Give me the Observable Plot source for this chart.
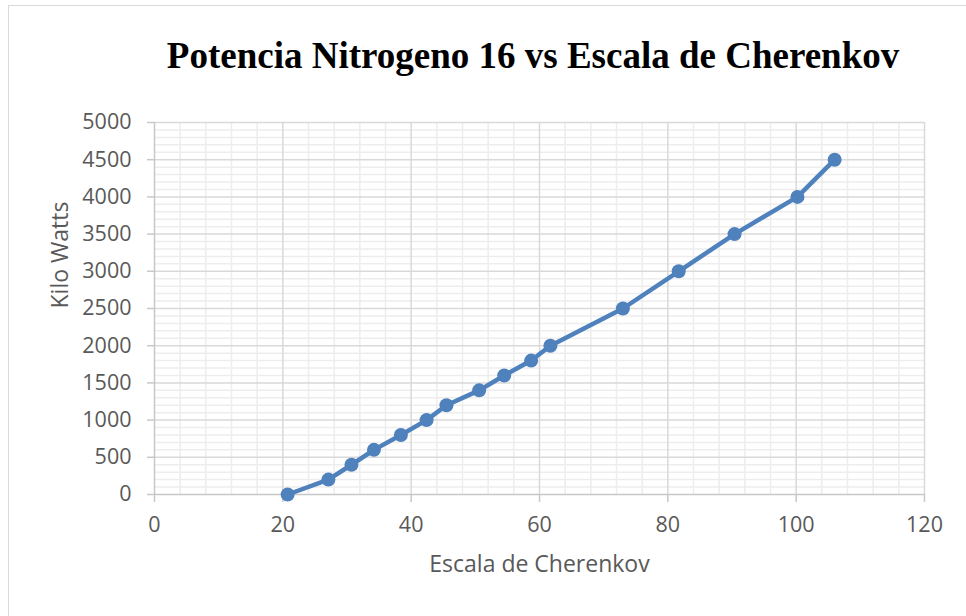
<!DOCTYPE html>
<html>
<head>
<meta charset="utf-8">
<script src="https://cdn.jsdelivr.net/npm/d3@7"></script>
<script src="https://cdn.jsdelivr.net/npm/@observablehq/plot@0.6"></script>
<style>
  html, body { margin: 0; padding: 0; background: #fff; overflow: hidden; }
  #wrap { position: relative; width: 966px; height: 616px; overflow: hidden; background: #fff; }
  #frame { position: absolute; left: 8px; top: 5px; width: 1000px; height: 1000px; border: 1.5px solid #d9d9d9; box-sizing: border-box; }
  #title { position: absolute; left: 0; top: 0; width: 1066px; text-align: center; font-family: "Liberation Serif", "Times New Roman", serif; font-weight: bold; font-size: 37px; color: #000; line-height: 1; padding-top: 37px; }
  #chart { position: absolute; left: 0; top: 0; }
  #chart svg { background: transparent; }
</style>
</head>
<body>
<div id="wrap">
  <div id="frame"></div>
  <div id="chart"></div>
  <div id="title">Potencia Nitrogeno 16 vs Escala de Cherenkov</div>
</div>
<script>
// Data
const escala = [20.75, 27.1, 30.7, 34.2, 38.4, 42.4, 45.5, 50.6, 54.5, 58.7, 61.7, 73.0, 81.7, 90.4, 100.2, 106.0];
const kiloWatts = [0, 200, 400, 600, 800, 1000, 1200, 1400, 1600, 1800, 2000, 2500, 3000, 3500, 4000, 4500];
const xTicks = [0, 20, 40, 60, 80, 100, 120];
const yTicks = [0, 500, 1000, 1500, 2000, 2500, 3000, 3500, 4000, 4500, 5000];
const xMinor = [4, 8, 12, 16, 24, 28, 32, 36, 44, 48, 52, 56, 64, 68, 72, 76, 84, 88, 92, 96, 104, 108, 112, 116];
const yMinor = d3.range(100, 5000, 100).filter(v => v % 500 !== 0);

const data = escala.map((x, i) => ({x, y: kiloWatts[i]}));

const blue = "#4f81bd";
const font = "'Open Sans', 'Noto Sans', sans-serif";

const plot = Plot.plot({
  width: 966,
  height: 616,
  marginLeft: 154,
  marginRight: 42,
  marginTop: 122,
  marginBottom: 122,
  style: {fontFamily: font, background: "transparent"},
  x: {domain: [0, 120]},
  y: {domain: [0, 5000]},
  marks: [
    Plot.ruleX(xMinor, {stroke: "#ededed", strokeWidth: 1.5}),
    Plot.ruleY(yMinor, {stroke: "#ededed", strokeWidth: 1.5}),
    Plot.ruleX(xTicks.slice(1), {stroke: "#d9d9d9", strokeWidth: 1.5}),
    Plot.ruleY(yTicks.slice(1), {stroke: "#d9d9d9", strokeWidth: 1.5}),
    Plot.ruleX([0], {stroke: "#c8c8c8", strokeWidth: 1.5}),
    Plot.ruleY([0], {stroke: "#c8c8c8", strokeWidth: 1.5}),
    Plot.axisX({ticks: xTicks, tickSize: 8, tickPadding: 14, stroke: "#c8c8c8", strokeWidth: 1.5, fill: "#595959", fontSize: 21.5, label: null, tickFormat: d => String(d)}),
    Plot.axisY({ticks: yTicks, tickSize: 7, tickPadding: 16, stroke: "#c8c8c8", strokeWidth: 1.5, fill: "#595959", fontSize: 21.5, label: null, tickFormat: d => String(d)}),
    Plot.text(["Escala de Cherenkov"], {frameAnchor: "bottom", dy: 77, fontSize: 23, fill: "#595959", fontFamily: font}),
    Plot.text(["Kilo Watts"], {frameAnchor: "left", dx: -94, rotate: -90, fontSize: 23, fill: "#595959", fontFamily: font}),
    Plot.line(data, {x: "x", y: "y", stroke: blue, strokeWidth: 4.5, strokeLinejoin: "round"}),
    Plot.dot(data, {x: "x", y: "y", r: 7, fill: blue, stroke: "none"})
  ]
});
document.getElementById("chart").appendChild(plot);
</script>
</body>
</html>
